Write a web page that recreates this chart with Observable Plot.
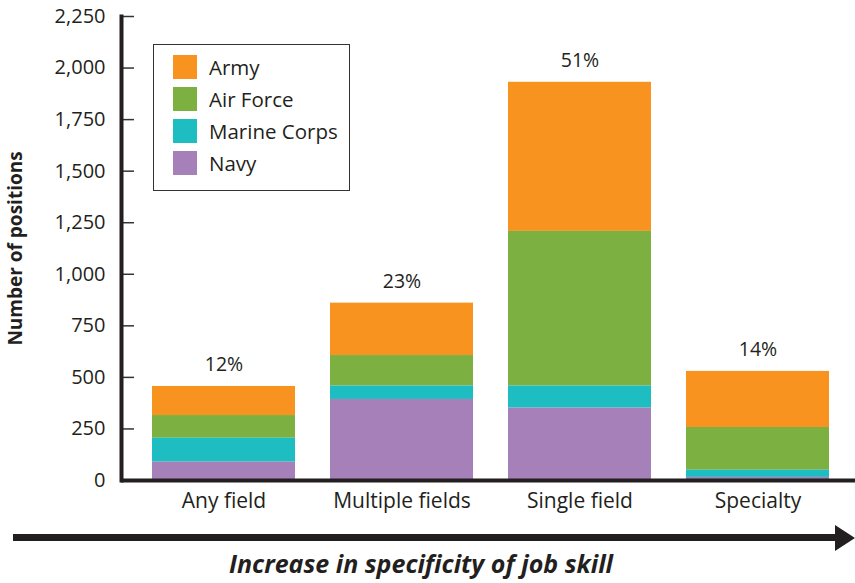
<!DOCTYPE html>
<html>
<head>
<meta charset="utf-8">
<script src="https://cdn.jsdelivr.net/npm/d3@7"></script>
<script src="https://cdn.jsdelivr.net/npm/@observablehq/plot@0.6"></script>
<style>
  html, body { margin: 0; padding: 0; background: #fff; }
  #wrap { position: relative; width: 855px; height: 583px; font-family: "Open Sans", sans-serif; color: #231F20; }
  #chart { position: absolute; left: 0; top: 0; }
  #legend { position: absolute; left: 153px; top: 44px; width: 195px; height: 145px; border: 1.5px solid #333; background: #fff; }
  .li { position: absolute; left: 19px; height: 24px; display: flex; align-items: center; font-size: 20.5px; white-space: nowrap; }
  .sw { width: 24px; height: 24px; margin-right: 12px; }
  #arrow { position: absolute; left: 0; top: 520px; }
  #title { position: absolute; left: 0; width: 842px; top: 548px; text-align: center; font-size: 25px; font-style: italic; font-weight: 700; line-height: 30px; }
  g[aria-label="y-axis label"] text { font-weight: 700; font-size: 19px; }
</style>
</head>
<body>
<div id="wrap">
  <div id="chart"></div>
  <div id="legend"></div>
  <svg id="arrow" width="855" height="40">
    <line x1="13" y1="17.5" x2="838" y2="17.5" stroke="#231F20" stroke-width="7"></line>
    <polygon points="855,18 835,5 835,31" fill="#231F20"></polygon>
  </svg>
  <div id="title">Increase in specificity of job skill</div>
</div>
<script>
const categories = ["Any field", "Multiple fields", "Single field", "Specialty"];
const services = ["Army", "Air Force", "Marine Corps", "Navy"];
const army = [141, 254, 723, 272];
const airForce = [110, 148, 750, 207];
const marineCorps = [116, 65, 107, 35];
const navy = [89, 393, 351, 15];
const pctLabels = ["12%", "23%", "51%", "14%"];
const yTicks = [0, 250, 500, 750, 1000, 1250, 1500, 1750, 2000, 2250];
const colors = ["#F7931E", "#7CB142", "#1DBDC1", "#A680B8"];

const seriesValues = [army, airForce, marineCorps, navy];
const data = [];
services.forEach((s, si) => {
  categories.forEach((c, ci) => data.push({category: c, service: s, value: seriesValues[si][ci]}));
});
const totals = categories.map((c, ci) => ({
  category: c,
  total: army[ci] + airForce[ci] + marineCorps[ci] + navy[ci],
  label: pctLabels[ci]
}));

const plot = Plot.plot({
  width: 855,
  height: 520,
  marginLeft: 121,
  marginRight: 0,
  marginTop: 16,
  marginBottom: 40,
  style: {fontFamily: "'Open Sans', sans-serif", color: "#231F20", background: "transparent"},
  x: {domain: categories, range: [119.5, 862.5], paddingInner: 0.195, paddingOuter: 0.184, label: null},
  y: {domain: [0, 2250], label: "Number of positions"},
  color: {domain: services, range: colors},
  marks: [
    Plot.barY(data, {x: "category", y: "value", fill: "service", order: ["Navy", "Marine Corps", "Air Force", "Army"]}),
    Plot.text(totals, {x: "category", y: "total", text: "label", dy: -15, lineAnchor: "bottom", fontSize: 19.5, fill: "#231F20"}),
    Plot.axisX({tickSize: 0, tickPadding: 13, fontSize: 21, label: null, fill: "#231F20"}),
    Plot.axisY({ticks: yTicks, tickSize: -13, tickPadding: 29, fontSize: 20, tickFormat: d3.format(","), stroke: "#333", strokeWidth: 1.5, fill: "#231F20", label: "Number of positions", labelAnchor: "center", labelArrow: "none", labelOffset: 113}),
    Plot.frame({anchor: "left", stroke: "#231F20", strokeWidth: 4}),
    Plot.ruleY([0], {stroke: "#231F20", strokeWidth: 4})
  ]
});
document.getElementById("chart").appendChild(plot);

const legend = document.getElementById("legend");
services.forEach((s, i) => {
  const row = document.createElement("div");
  row.className = "li";
  row.style.top = (10 + i * 32) + "px";
  const sw = document.createElement("div");
  sw.className = "sw";
  sw.style.background = colors[i];
  const t = document.createElement("span");
  t.textContent = s;
  row.appendChild(sw);
  row.appendChild(t);
  legend.appendChild(row);
});
</script>
</body>
</html>
